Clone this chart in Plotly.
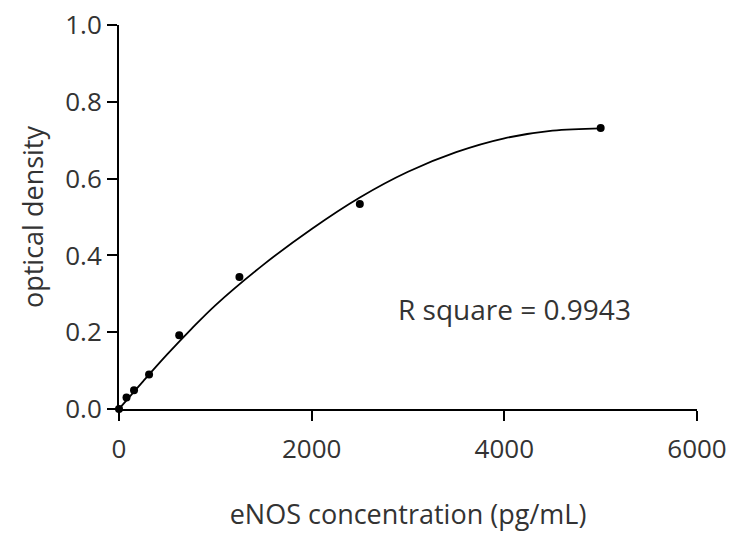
import plotly.graph_objects as go

conc = [0, 78, 156, 312, 625, 1250, 2500, 5000]
od = [0.0, 0.030, 0.049, 0.090, 0.192, 0.344, 0.534, 0.732]

fit_x = [0, 250, 500, 750, 1000, 1500, 2000, 2500, 3000, 3500, 4000, 4500, 5000]
fit_y = [0.0, 0.072, 0.142, 0.208, 0.270, 0.376, 0.469, 0.551, 0.618, 0.669, 0.705, 0.725, 0.731]

x_ticks = [0, 2000, 4000, 6000]
y_ticks = [0.0, 0.2, 0.4, 0.6, 0.8, 1.0]
y_tick_labels = ["0.0", "0.2", "0.4", "0.6", "0.8", "1.0"]

font_family = "Open Sans"
text_color = "#333333"

fig = go.Figure()
fig.add_trace(go.Scatter(x=fit_x, y=fit_y, mode="lines", line=dict(color="black", width=1.8, shape="spline"),
                         cliponaxis=False, showlegend=False))
fig.add_trace(go.Scatter(x=conc, y=od, mode="markers", marker=dict(color="black", size=8),
                         cliponaxis=False, showlegend=False))

fig.add_annotation(x=4110, y=0.26, xref="x", yref="y", text="R square = 0.9943", showarrow=False,
                   xanchor="center", yanchor="middle", font=dict(family=font_family, size=28, color=text_color))

fig.update_layout(
    width=731, height=538,
    margin=dict(l=119, r=34, t=25, b=129),
    plot_bgcolor="white", paper_bgcolor="white",
    font=dict(family=font_family, size=26, color=text_color),
)
fig.update_xaxes(range=[0, 6000], tickvals=x_ticks, ticktext=[str(v) for v in x_ticks],
                 showline=True, linecolor="black", linewidth=2, ticks="outside", ticklen=10, tickwidth=2,
                 tickcolor="black", showgrid=False, zeroline=False, ticklabelstandoff=6, automargin=False,
                 title=dict(text="eNOS concentration (pg/mL)", standoff=40, font=dict(size=27)))
fig.update_yaxes(range=[0, 1.0], tickvals=y_ticks, ticktext=y_tick_labels,
                 showline=True, linecolor="black", linewidth=2, ticks="outside", ticklen=10, tickwidth=2,
                 tickcolor="black", showgrid=False, zeroline=False, automargin=False,
                 title=dict(text="optical density", standoff=14, font=dict(size=27)))

fig.write_html("out.html")
